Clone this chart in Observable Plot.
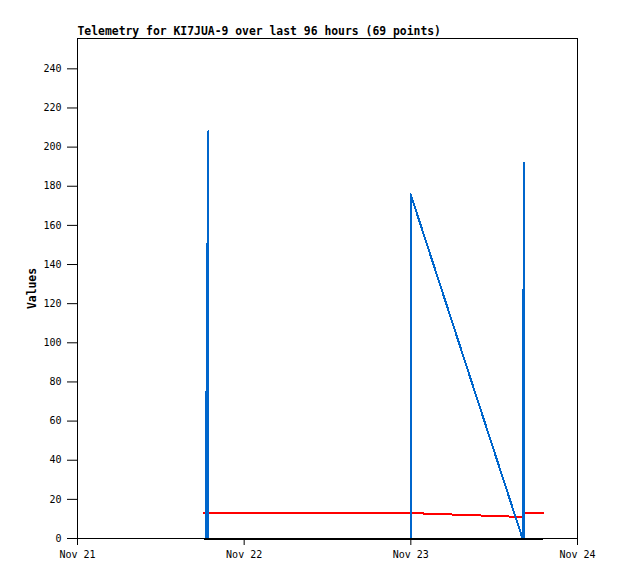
<!DOCTYPE html>
<html>
<head>
<meta charset="utf-8">
<script src="https://cdn.jsdelivr.net/npm/d3@7"></script>
<script src="https://cdn.jsdelivr.net/npm/@observablehq/plot@0.6"></script>
<style>
  html, body { margin: 0; padding: 0; background: #fff; }
</style>
</head>
<body>
<div id="chart"></div>
<script>
const titleText = "Telemetry for KI7JUA-9 over last 96 hours (69 points)";
const yLabel = "Values";

const times = [
  "2023-11-21T18:09", "2023-11-21T18:32", "2023-11-21T18:32", "2023-11-21T18:44",
  "2023-11-21T18:51", "2023-11-21T18:51", "2023-11-22T23:58", "2023-11-22T23:58",
  "2023-11-23T16:05", "2023-11-23T16:12", "2023-11-23T16:20", "2023-11-23T16:20",
  "2023-11-23T19:06"
];
const blueValues  = [0, 0, 52, 156, 208, 0, 0, 176, 0, 112, 192, 0, 0];
const redValues   = [13, 13, 13, 13, 13, 13, 13, 13, 11, 13, 13, 13, 13];
const blackValues = [0, 0, 0, 0, 0, 0, 0, 0, 0, 0, 0, 0, 0];

const xTicks = ["2023-11-21", "2023-11-22", "2023-11-23", "2023-11-24"];
const yTicks = [0, 20, 40, 60, 80, 100, 120, 140, 160, 180, 200, 220, 240];

const data = times.map((t, i) => ({
  t: new Date(t + ":00Z"),
  blue: blueValues[i],
  red: redValues[i],
  black: blackValues[i]
}));
const xTickDates = xTicks.map(d => new Date(d + "T00:00:00Z"));

const chart = Plot.plot({
  width: 618,
  height: 579,
  marginLeft: 77,
  marginRight: 41,
  marginTop: 38,
  marginBottom: 41,
  style: { fontFamily: "DejaVu Sans Mono", fontSize: "10px", background: "#fff", color: "#000" },
  x: { type: "utc", domain: [xTickDates[0], xTickDates[xTickDates.length - 1]] },
  y: { domain: [0, 255.5] },
  marks: [
    Plot.axisX({ ticks: xTickDates, tickFormat: d3.utcFormat("%b %d"), tickSize: 7, tickPadding: 5, label: null }),
    Plot.axisY({ ticks: yTicks, tickSize: 10, tickPadding: 6, label: null }),
    Plot.frame({ stroke: "#000" }),
    Plot.lineY(data, { x: "t", y: "red", stroke: "#ff0000", strokeWidth: 2, shapeRendering: "crispEdges" }),
    Plot.lineY(data, { x: "t", y: "blue", stroke: "#0066cc", strokeWidth: 2, shapeRendering: "crispEdges" }),
    Plot.lineY(data, { x: "t", y: "black", stroke: "#000", strokeWidth: 2, shapeRendering: "crispEdges" }),
    Plot.text([titleText], { text: d => d, frameAnchor: "top-left", lineAnchor: "middle", dy: -7, textAnchor: "start", fontWeight: "bold", fontSize: 11.4 }),
    Plot.text([yLabel], { text: d => d, frameAnchor: "left", lineAnchor: "middle", textAnchor: "middle", dx: -45, rotate: -90, fontWeight: "bold", fontSize: 11.4 })
  ]
});
document.getElementById("chart").appendChild(chart);
</script>
</body>
</html>
